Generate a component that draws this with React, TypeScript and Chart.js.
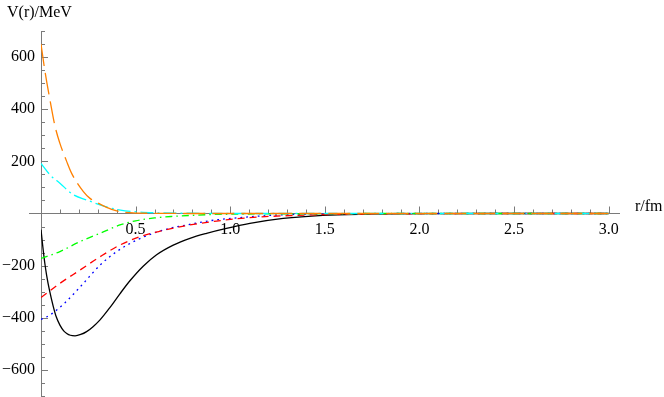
import React, { useEffect, useRef } from "react";
import { Chart, registerables } from "chart.js";

Chart.register(...registerables);

// ---- data (r in fm, V in MeV) ----
const blackR = [0, 0.01, 0.02, 0.03, 0.045, 0.065, 0.08, 0.1, 0.12, 0.136, 0.155, 0.18, 0.21, 0.241, 0.275, 0.312, 0.365, 0.417, 0.47, 0.54, 0.611, 0.699, 0.787, 0.875, 0.98, 1.104, 1.28, 1.49, 1.7, 2.0, 2.5, 3.0];
const blackV = [-62, -130, -190, -238, -295, -357, -395, -428, -450, -460, -467, -469, -464, -453, -434, -408, -360, -308, -258, -202, -158, -121, -95, -76, -57, -38, -19, -7, -2.5, -0.5, 0, 0];

const orangeR = [0, 0.02, 0.05, 0.074, 0.1, 0.136, 0.162, 0.224, 0.259, 0.312, 0.373, 0.435, 0.52, 0.65, 0.8, 1.0, 1.5, 2.0, 2.5, 3.0];
const orangeV = [650, 550, 425, 335, 269, 199, 154, 84, 58, 36, 16, 5, 1.5, 0.5, 0, 0, 0, 0, 0, 0];

const cyanR = [0, 0.048, 0.1, 0.171, 0.241, 0.312, 0.347, 0.42, 0.488, 0.6, 0.8, 1.0, 1.5, 2.0, 2.5, 3.0];
const cyanV = [192, 148, 116, 72, 52, 33, 25, 13, 7, 3, 1, 0, 0, 0, 0, 0];

const greenR = [0, 0.05, 0.1, 0.206, 0.312, 0.417, 0.5, 0.6, 0.7, 0.8, 0.9, 1.1, 1.4, 1.8, 2.5, 3.0];
const greenV = [-172, -160, -146, -108, -76, -44, -28, -17, -11, -7, -4, -2, -1, 0, 0, 0];

const redR = [0, 0.1, 0.206, 0.312, 0.417, 0.523, 0.629, 0.787, 0.928, 1.1, 1.316, 1.6, 2.0, 2.5, 3.0];
const redV = [-322, -268, -217, -166, -121, -89, -68, -44, -29, -16, -8, -3, -1, 0, 0];

const blueR = [0, 0.048, 0.127, 0.224, 0.312, 0.4, 0.505, 0.593, 0.68, 0.77, 0.9, 1.016, 1.245, 1.5, 2.0, 2.5, 3.0];
const blueV = [-406, -389, -342, -268, -198, -146, -102, -76, -57, -44, -27, -18, -6, -2, 0, 0, 0];

const xTicks = [0.5, 1.0, 1.5, 2.0, 2.5, 3.0];
const yTicks = [-600, -400, -200, 200, 400, 600];

const xLabel = "r/fm";
const yLabel = "V(r)/MeV";

const FONT = "'Liberation Serif', 'DejaVu Serif', serif";

const zip = (r: number[], v: number[]) => r.map((x, i) => ({ x, y: v[i] }));

const axesPlugin = {
  id: "mmaAxes",
  beforeDatasetsDraw(chart: any) {
    const { ctx, chartArea, scales } = chart;
    const xs = scales.x;
    const ys = scales.y;
    const x0 = xs.getPixelForValue(0);
    const y0 = ys.getPixelForValue(0);
    ctx.save();
    ctx.strokeStyle = "#7a7a7a";
    ctx.lineWidth = 1;
    // x axis line
    ctx.beginPath();
    ctx.moveTo(x0 - 12, y0);
    ctx.lineTo(chartArea.right, y0);
    ctx.stroke();
    // y axis line
    ctx.beginPath();
    ctx.moveTo(x0 + 0.5, chartArea.top);
    ctx.lineTo(x0 + 0.5, chartArea.bottom + 2);
    ctx.stroke();
    // x ticks
    for (let i = 1; i <= 30; i++) {
      const v = i / 10;
      const px = Math.round(xs.getPixelForValue(v)) + 0.5;
      const len = i % 5 === 0 ? 7 : 4;
      ctx.beginPath();
      ctx.moveTo(px, y0);
      ctx.lineTo(px, y0 - len);
      ctx.stroke();
    }
    // y ticks
    for (let v = -700; v <= 700; v += 50) {
      if (v === 0) continue;
      const py = Math.round(ys.getPixelForValue(v)) + 0.5;
      const len = v % 200 === 0 ? 7 : 4;
      ctx.beginPath();
      ctx.moveTo(x0, py);
      ctx.lineTo(x0 + len, py);
      ctx.stroke();
    }
    ctx.restore();
  },
  afterDraw(chart: any) {
    const { ctx } = chart;
    ctx.save();
    ctx.fillStyle = "#000";
    ctx.font = `16px ${FONT}`;
    ctx.textBaseline = "alphabetic";
    ctx.textAlign = "left";
    ctx.fillText(yLabel, 7, 17);
    ctx.fillText(xLabel, 635, 211);
    ctx.restore();
  },
};

export default function App() {
  const ref = useRef<HTMLCanvasElement>(null);
  useEffect(() => {
    if (!ref.current) return;
    const common = { pointRadius: 0, borderWidth: 1.3, fill: false, cubicInterpolationMode: "monotone" as const };
    const chart = new Chart(ref.current, {
      type: "line",
      data: {
        datasets: [
          { ...common, data: zip(orangeR, orangeV), borderColor: "rgb(255,128,0)", borderDash: [22, 7] },
          { ...common, data: zip(cyanR, cyanV), borderColor: "rgb(0,255,255)", borderDash: [13, 4, 2, 4] },
          { ...common, data: zip(greenR, greenV), borderColor: "rgb(0,255,0)", borderDash: [7, 4, 1.5, 4] },
          { ...common, data: zip(redR, redV), borderColor: "rgb(255,0,0)", borderDash: [7, 5] },
          { ...common, data: zip(blueR, blueV), borderColor: "rgb(0,0,255)", borderDash: [1.8, 4] },
          { ...common, data: zip(blackR, blackV), borderColor: "#000", borderDash: [] },
        ],
      },
      options: {
        responsive: false,
        animation: false,
        layout: { padding: { left: 0, top: 31, right: 44, bottom: 1 } },
        plugins: { legend: { display: false }, tooltip: { enabled: false } },
        scales: {
          x: {
            type: "linear",
            min: 0,
            max: 3.06,
            position: { y: 0 } as any,
            grid: { display: false, drawTicks: false },
            border: { display: false },
            afterFit: (s: any) => {
              s.height = 0;
              s.paddingLeft = 0;
              s.paddingRight = 0;
              s.paddingTop = 0;
              s.paddingBottom = 0;
            },
            afterBuildTicks: (s: any) => {
              s.ticks = xTicks.map((v) => ({ value: v }));
            },
            ticks: {
              color: "#000",
              padding: 7,
              maxRotation: 0,
              autoSkip: false,
              font: { family: FONT, size: 16 },
              callback: (v: any) => Number(v).toFixed(1),
            },
          },
          y: {
            type: "linear",
            min: -700,
            max: 700,
            position: "left",
            grid: { display: false, drawTicks: false },
            border: { display: false },
            afterFit: (s: any) => {
              s.width = 41;
              s.paddingTop = 0;
              s.paddingBottom = 0;
              s.paddingLeft = 0;
              s.paddingRight = 0;
            },
            afterBuildTicks: (s: any) => {
              s.ticks = yTicks.map((v) => ({ value: v }));
            },
            ticks: {
              color: "#000",
              padding: 6,
              autoSkip: false,
              font: { family: FONT, size: 16 },
              callback: (v: any) => (Number(v) < 0 ? "\u2212" + Math.abs(Number(v)) : String(v)),
            },
          },
        },
      },
      plugins: [axesPlugin],
    });
    return () => chart.destroy();
  }, []);
  return (
    <div style={{ position: "absolute", left: 0, top: 0, width: 664, height: 397, background: "#fff" }}>
      <canvas ref={ref} width={664} height={397} style={{ display: "block" }} />
    </div>
  );
}
